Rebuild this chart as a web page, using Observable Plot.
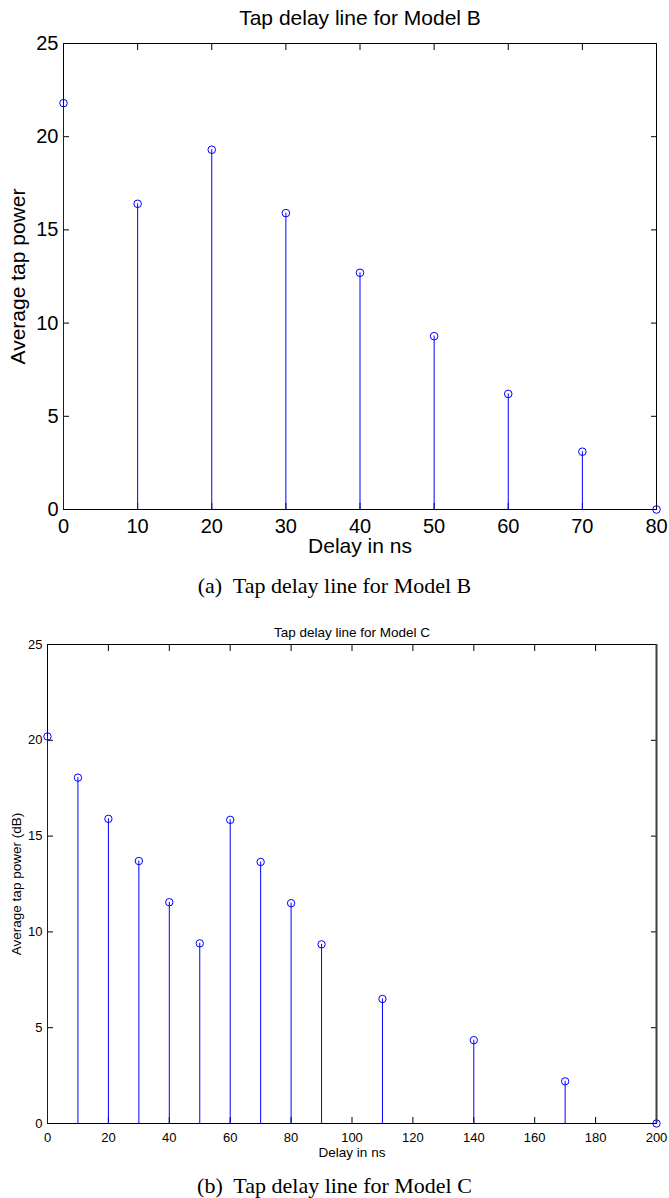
<!DOCTYPE html>
<html><head><meta charset="utf-8">
<script src="https://cdn.jsdelivr.net/npm/d3@7"></script>
<script src="https://cdn.jsdelivr.net/npm/@observablehq/plot@0.6"></script>
<style>
html,body{margin:0;padding:0;background:#fff;}
#wrap{position:relative;width:669px;height:1198px;overflow:hidden;background:#fff;}
.cap{position:absolute;left:0;width:669px;text-align:center;font-family:"Liberation Serif","Times New Roman",serif;font-size:22px;line-height:22px;color:#000;white-space:nowrap;}
.chart{position:absolute;left:0;}
.chart svg{display:block;overflow:visible;}
</style></head><body>
<div id="wrap">
  <div id="c1" class="chart" style="top:0px"></div>
  <div class="cap" style="top:575px">(a)&nbsp; Tap delay line for Model B</div>
  <div id="c2" class="chart" style="top:608px"></div>
  <div class="cap" style="top:1175px">(b)&nbsp; Tap delay line for Model C</div>
</div>
<script>
// Model B
const delaysB = [0, 10, 20, 30, 40, 50, 60, 70, 80];
const powerB  = [21.8, 16.4, 19.3, 15.9, 12.7, 9.3, 6.2, 3.1, 0];
const xTicksB = [0, 10, 20, 30, 40, 50, 60, 70, 80];
// Model C
const delaysC = [0, 10, 20, 30, 40, 50, 60, 70, 80, 90, 110, 140, 170, 200];
const powerC  = [20.2, 18.05, 15.9, 13.7, 11.55, 9.4, 15.85, 13.65, 11.5, 9.35, 6.5, 4.35, 2.2, 0];
const xTicksC = [0, 20, 40, 60, 80, 100, 120, 140, 160, 180, 200];
const yTicks  = [0, 5, 10, 15, 20, 25];

const titleB = "Tap delay line for Model B";
const titleC = "Tap delay line for Model C";
const xLabel = "Delay in ns";
const yLabelB = "Average tap power";
const yLabelC = "Average tap power (dB)";

const BLUE = "#0000ff";

function makeChart(o) {
  const data = o.delays.map((d, i) => ({delay: d, power: o.power[i]}));
  const xMax = d3.max(o.xTicks);
  const marks = [
    Plot.frame({stroke: "black", strokeWidth: 1}),
    Plot.axisX(o.xTicks, {anchor: "bottom", tickSize: 0, tickPadding: o.xPad, fontSize: o.tickFont, fill: "black", label: null}),
    Plot.axisX(o.xTicks, {anchor: "bottom", tickSize: -o.tick, fill: "none", stroke: "black", label: null}),
    Plot.axisX(o.xTicks, {anchor: "top", tickSize: -o.tick, fill: "none", stroke: "black", label: null}),
    Plot.axisY(yTicks, {anchor: "left", tickSize: 0, tickPadding: o.yPad, fontSize: o.tickFont, fill: "black", label: null}),
    Plot.axisY(yTicks, {anchor: "left", tickSize: -o.tick, fill: "none", stroke: "black", label: null}),
    Plot.axisY(yTicks, {anchor: "right", tickSize: -o.tick, fill: "none", stroke: "black", label: null})
  ];
  if (o.thickRight) marks.push(Plot.ruleX([xMax], {stroke: "#404040", strokeWidth: 2}));
  marks.push(
    Plot.ruleX(data, {x: "delay", y1: 0, y2: "power", stroke: BLUE, strokeWidth: 1}),
    Plot.dot(data, {x: "delay", y: "power", r: o.r, stroke: BLUE, fill: "none", strokeWidth: 1}),
    Plot.text([o.title], {text: d => d, frameAnchor: "top", lineAnchor: "bottom", textAnchor: "middle", dy: o.titleDy, fontSize: o.labelFont, fill: "black"}),
    Plot.text([xLabel], {text: d => d, frameAnchor: "bottom", lineAnchor: "top", textAnchor: "middle", dy: o.xLabDy, fontSize: o.labelFont, fill: "black"}),
    Plot.text([o.yLabel], {text: d => d, frameAnchor: "left", lineAnchor: "middle", textAnchor: "middle", rotate: -90, dx: o.yLabDx, fontSize: o.labelFont, fill: "black"})
  );
  return Plot.plot({
    width: 669,
    height: o.height,
    marginTop: o.mt, marginBottom: o.mb, marginLeft: o.ml, marginRight: o.mr,
    x: {domain: [0, xMax]},
    y: {domain: [0, 25]},
    style: {fontFamily: "'Liberation Sans', Arial, Helvetica, sans-serif", background: "white", color: "black", overflow: "visible"},
    marks
  });
}

document.getElementById("c1").appendChild(makeChart({
  delays: delaysB, power: powerB, xTicks: xTicksB, title: titleB, yLabel: yLabelB,
  height: 562, mt: 43, mb: 53, ml: 63, mr: 13,
  tick: 6, xPad: 9, yPad: 5, tickFont: 20, labelFont: 21,
  titleDy: -19, xLabDy: 29, yLabDx: -45, r: 3.8, thickRight: false
}));

document.getElementById("c2").appendChild(makeChart({
  delays: delaysC, power: powerC, xTicks: xTicksC, title: titleC, yLabel: yLabelC,
  height: 560, mt: 36, mb: 45, ml: 47, mr: 13,
  tick: 6, xPad: 9, yPad: 5, tickFont: 13, labelFont: 13.5,
  titleDy: -8, xLabDy: 24, yLabDx: -31, r: 3.7, thickRight: true
}));
</script>
</body></html>
